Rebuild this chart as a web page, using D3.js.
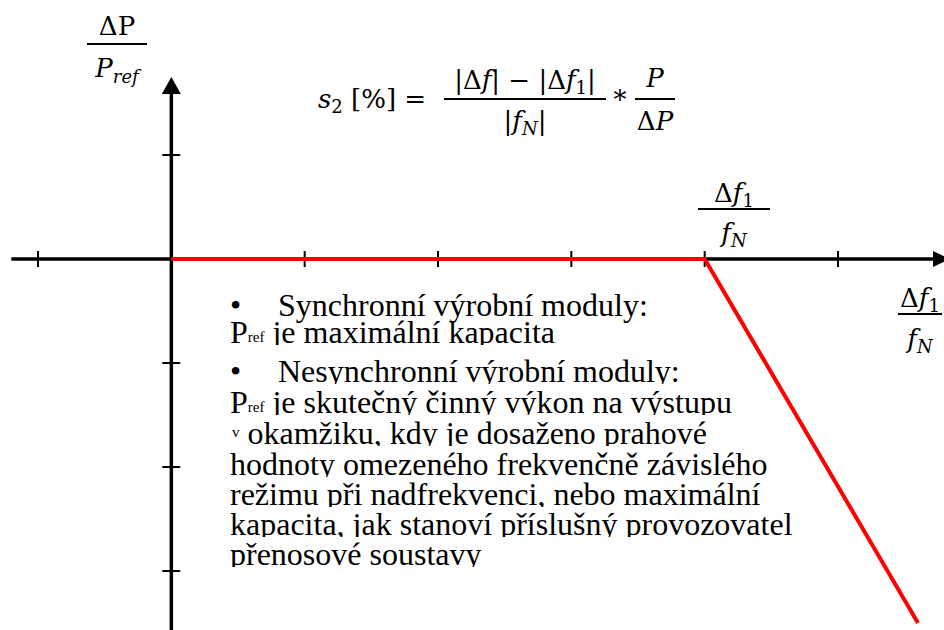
<!DOCTYPE html>
<html>
<head>
<meta charset="utf-8">
<script src="https://cdn.jsdelivr.net/npm/d3@7"></script>
<style>
    body { margin: 0; background: #fff; }
    svg { display: block; }
</style>
</head>
<body>
<svg id="chart" width="944" height="630"></svg>
<script>
/*
 Data
 */

var xTicks = [-1, 0, 1, 2, 3, 4, 5];
var yTicks = [1, 0, -1, -2, -3];
var xExtent = [-1.2, 5.84];
var yExtent = [-3.57, 1.75];

// droop characteristic: flat until df1/fN, then falls
var curveX = [0, 4, 5.6];
var curveY = [0, 0, -3.5];

var noteLines = [
    [{t: '•', dx: 230}, {t: 'Synchronní výrobní moduly:', dx: 278}],
    [{t: 'P', dx: 230}, {t: 'ref', small: 'low'}, {t: ' je maximální kapacita'}],
    [{t: '•', dx: 230}, {t: 'Nesynchronní výrobní moduly:', dx: 278}],
    [{t: 'P', dx: 230}, {t: 'ref', small: 'low'}, {t: ' je skutečný činný výkon na výstupu'}],
    [{t: 'v', dx: 232, small: 'high'}, {t: ' okamžiku, kdy je dosaženo prahové'}],
    [{t: 'hodnoty omezeného frekvenčně závislého', dx: 230}],
    [{t: 'režimu při nadfrekvenci, nebo maximální', dx: 230}],
    [{t: 'kapacita, jak stanoví příslušný provozovatel', dx: 230}],
    [{t: 'přenosové soustavy', dx: 230}]
];
var noteBaselines = [316, 343, 382, 413, 444, 475, 505, 535, 565];

var MATH_FONT = '"DejaVu Serif", serif';
var NOTE_FONT = '"Liberation Serif", "Times New Roman", serif';
var MATH_SIZE = 26;
var NOTE_SIZE = 32;

/*
 Scales
 */

var svg = d3.select('#chart');

var x = d3.scaleLinear().domain([-1, 5]).range([38, 838]);
var y = d3.scaleLinear().domain([1, -3]).range([155, 571]);

var AXIS_W = 3.5;
var TICK_HALF = 8;

/*
 Axes
 */

function makeAxes() {
    var g = svg.append('g').classed('axes', true);
    var x0 = x(0), y0 = y(0);

    // horizontal
    g.append('line')
        .attr('x1', x(xExtent[0])).attr('x2', x(xExtent[1]) - 10)
        .attr('y1', y0).attr('y2', y0)
        .attr('stroke', '#000').attr('stroke-width', AXIS_W);
    g.append('path')
        .attr('d', 'M' + x(xExtent[1]) + ',' + y0 +
            'L' + (x(xExtent[1]) - 17) + ',' + (y0 - 8) +
            'L' + (x(xExtent[1]) - 17) + ',' + (y0 + 8) + 'Z')
        .attr('fill', '#000');

    // vertical
    g.append('line')
        .attr('x1', x0).attr('x2', x0)
        .attr('y1', y(yExtent[0])).attr('y2', y(yExtent[1]) + 10)
        .attr('stroke', '#000').attr('stroke-width', AXIS_W);
    g.append('path')
        .attr('d', 'M' + x0 + ',' + y(yExtent[1]) +
            'L' + (x0 - 9.5) + ',' + (y(yExtent[1]) + 17) +
            'L' + (x0 + 9.5) + ',' + (y(yExtent[1]) + 17) + 'Z')
        .attr('fill', '#000');

    g.selectAll('.xtick')
        .data(xTicks.filter(function (d) { return d !== 0; }))
        .enter().append('line')
        .classed('xtick', true)
        .attr('x1', function (d) { return x(d); })
        .attr('x2', function (d) { return x(d); })
        .attr('y1', y0 - TICK_HALF)
        .attr('y2', y0 + TICK_HALF)
        .attr('stroke', '#000').attr('stroke-width', 2);

    g.selectAll('.ytick')
        .data(yTicks.filter(function (d) { return d !== 0; }))
        .enter().append('line')
        .classed('ytick', true)
        .attr('x1', x0 - 9)
        .attr('x2', x0 + 9)
        .attr('y1', function (d) { return y(d); })
        .attr('y2', function (d) { return y(d); })
        .attr('stroke', '#000').attr('stroke-width', 2);
}

/*
 Curve
 */

function makeCurve() {
    var pts = curveX.map(function (d, i) { return [d, curveY[i]]; });
    var line = d3.line()
        .x(function (d) { return x(d[0]); })
        .y(function (d) { return y(d[1]); });

    svg.append('path')
        .datum(pts)
        .attr('d', line)
        .attr('fill', 'none')
        .attr('stroke', '#ff0000')
        .attr('stroke-width', 4)
        .attr('stroke-linejoin', 'miter');
}

/*
 Math labels
 */

function mathText(g, px, py, anchor) {
    return g.append('text')
        .attr('x', px).attr('y', py)
        .attr('text-anchor', anchor || 'start')
        .style('font-family', MATH_FONT)
        .style('font-size', MATH_SIZE + 'px')
        .attr('fill', '#000');
}

function fraction(g, cx, lineY, halfW, top, bottom, offs) {
    g.append('line')
        .attr('x1', cx - halfW).attr('x2', cx + halfW)
        .attr('y1', lineY).attr('y2', lineY)
        .attr('stroke', '#000').attr('stroke-width', 1.8);
    top(mathText(g, cx, lineY + offs[0], 'middle'));
    bottom(mathText(g, cx, lineY + offs[1], 'middle'));
}

function span(t, s, italic, shift, size) {
    var ts = t.append('tspan').text(s);
    if (italic) ts.style('font-style', 'italic');
    if (shift) ts.attr('dy', shift);
    if (size) ts.style('font-size', size + 'px');
    return ts;
}

function dfOverFn(t) {
    span(t, 'Δ', false);
    span(t, 'f', true);
    span(t, '1', false, 5, 18);
}

function fN(t) {
    span(t, 'f', true);
    span(t, 'N', true, 5, 18);
}

function makeLabels() {
    var g = svg.append('g').classed('labels', true);

    // y axis label
    fraction(g, 117, 44, 30, function (t) {
        span(t, 'ΔP', false);
    }, function (t) {
        span(t, 'P', true);
        span(t, 'ref', true, 6, 18);
    }, [-9, 33]);

    // breakpoint label
    fraction(g, 734, 209, 36, dfOverFn, fN, [-7, 33]);

    // x axis label
    fraction(g, 920, 314, 22, dfOverFn, fN, [-7, 34]);

    // formula
    var f = mathText(g, 318, 108);
    span(f, 's', true);
    span(f, '2', false, 5, 18);
    span(f, ' [%] =', false, -5);

    fraction(g, 525, 99, 81, function (t) {
        span(t, '|Δ', false);
        span(t, 'f', true);
        span(t, '| − |Δ', false);
        span(t, 'f', true);
        span(t, '1', false, 5, 18);
        span(t, '|', false, -5);
    }, function (t) {
        span(t, '|', false);
        span(t, 'f', true);
        span(t, 'N', true, 5, 18);
        span(t, '|', false, -5);
    }, [-10, 31]);

    mathText(g, 620, 109, 'middle').text('*');

    fraction(g, 655, 99, 20, function (t) {
        span(t, 'P', true);
    }, function (t) {
        span(t, 'Δ', false);
        span(t, 'P', true);
    }, [-12, 31]);
}

/*
 Notes
 */

function makeNotes() {
    var defs = svg.append('defs');
    var g = svg.append('g').classed('notes', true);

    noteLines.forEach(function (segs, i) {
        var base = noteBaselines[i];
        var clipId = 'clip' + i;
        // lines after the first are cut just under the baseline, like the source text box
        defs.append('clipPath').attr('id', clipId)
            .append('rect')
            .attr('x', 0).attr('width', 944)
            .attr('y', base - 32)
            .attr('height', i === 0 ? 44 : 34);

        var t = g.append('text')
            .attr('clip-path', 'url(#' + clipId + ')')
            .attr('y', base)
            .style('font-family', NOTE_FONT)
            .style('font-size', NOTE_SIZE + 'px')
            .attr('fill', '#000');

        segs.forEach(function (s) {
            var ts = t.append('tspan').text(s.t);
            if (s.dx !== undefined) ts.attr('x', s.dx);
            if (s.small) {
                ts.style('font-size', '15px')
                    .attr('y', s.small === 'high' ? base - 7 : base - 1);
            } else {
                ts.attr('y', base);
            }
        });
    });
}

makeAxes();
makeCurve();
makeLabels();
makeNotes();
</script>
</body>
</html>
